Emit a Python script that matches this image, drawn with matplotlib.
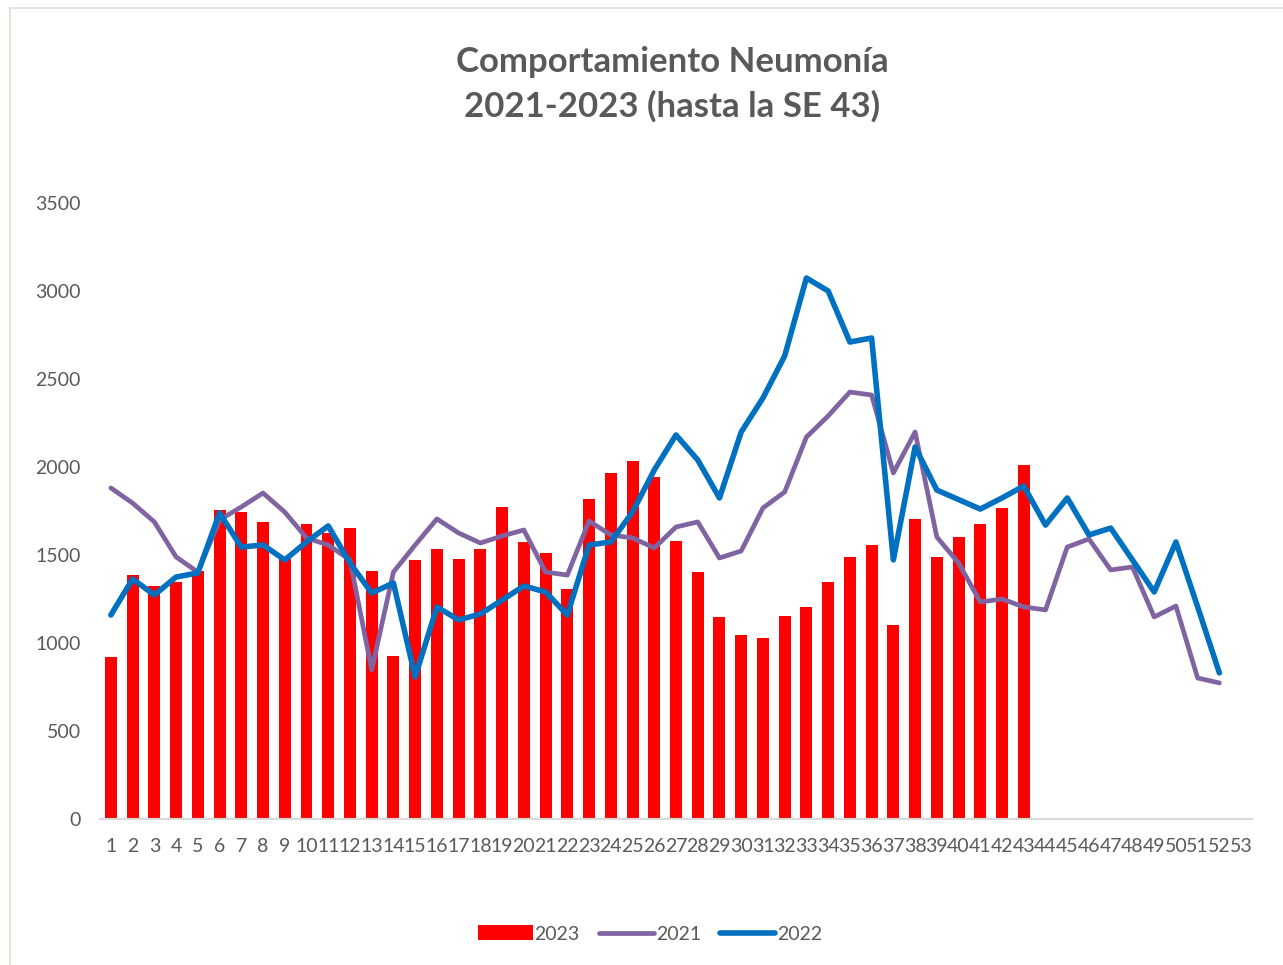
import matplotlib.pyplot as plt
from matplotlib.patches import Rectangle

# epidemiological weeks
weeks = list(range(1, 54))
weeks_2023 = list(range(1, 44))
weeks_lines = list(range(1, 53))

# 2023 cases (up to week 43)
cases_2023 = [920, 1386, 1324, 1347, 1409, 1756, 1744, 1688, 1480, 1676,
              1625, 1653, 1409, 926, 1472, 1534, 1477, 1534, 1773, 1574,
              1511, 1307, 1818, 1966, 2034, 1943, 1577, 1403, 1148, 1045,
              1028, 1153, 1205, 1347, 1489, 1557, 1102, 1705, 1489, 1602,
              1676, 1767, 2011]

# 2021 cases
cases_2021 = [1881, 1795, 1688, 1489, 1403, 1699, 1773, 1852, 1744, 1597,
              1557, 1472, 847, 1403, 1557, 1705, 1625, 1568, 1608, 1642,
              1403, 1386, 1693, 1614, 1597, 1540, 1659, 1688, 1483, 1523,
              1767, 1858, 2170, 2290, 2426, 2409, 1966, 2199, 1602, 1455,
              1233, 1250, 1205, 1188, 1545, 1591, 1415, 1432, 1148, 1210,
              801, 773]

# 2022 cases
cases_2022 = [1159, 1364, 1273, 1375, 1398, 1739, 1545, 1557, 1472, 1574,
              1665, 1455, 1284, 1341, 807, 1205, 1131, 1165, 1244, 1324,
              1290, 1159, 1557, 1574, 1744, 1983, 2182, 2040, 1824, 2199,
              2392, 2631, 3074, 3000, 2710, 2733, 1472, 2114, 1869, 1815,
              1761, 1824, 1892, 1670, 1824, 1614, 1653, 1472, 1290, 1574,
              1205, 830]

title = "Comportamiento Neumonía\n2021-2023 (hasta la SE 43)"
gray = "#595959"

plt.rcParams['font.family'] = ['Lato', 'DejaVu Sans']

fig = plt.figure(figsize=(12.83, 9.65), dpi=100)
# light chart frame
fig.patches.append(Rectangle((10 / 1283, -0.1), 1.2, 1.1 - 8 / 965,
                             transform=fig.transFigure, fill=False,
                             edgecolor="#e6e4da", linewidth=1.5))

ax = fig.add_axes([100 / 1283, 1 - 819 / 965, 1152 / 1283, 616 / 965])

bars = ax.bar(weeks_2023, cases_2023, width=0.55, color="#FF0000", label="2023", zorder=2)
l21, = ax.plot(weeks_lines, cases_2021, color="#8064A2", linewidth=3.4,
               solid_capstyle="round", solid_joinstyle="round", label="2021", zorder=3)
l22, = ax.plot(weeks_lines, cases_2022, color="#0070C0", linewidth=4.0,
               solid_capstyle="round", solid_joinstyle="round", label="2022", zorder=4)

ax.set_xlim(0.5, 53.5)
ax.set_ylim(0, 3500)
ax.set_yticks(range(0, 3501, 500))
ax.set_xticks(weeks)
ax.set_xticklabels([str(w) for w in weeks])
ax.tick_params(axis="both", length=0, colors=gray, labelsize=14)
ax.tick_params(axis="x", pad=14)
ax.tick_params(axis="y", pad=14)
for side in ["top", "right", "left"]:
    ax.spines[side].set_visible(False)
ax.spines["bottom"].set_color("#d9d9d9")
ax.spines["bottom"].set_linewidth(1.5)

fig.text(672 / 1283, 1 - 84 / 965, title, ha="center", va="center",
         fontsize=25, fontweight="bold", color=gray, linespacing=1.45)

ax.legend([bars, l21, l22], ["2023", "2021", "2022"], loc="center",
          bbox_to_anchor=(650 / 1283, 1 - 934 / 965),
          bbox_transform=fig.transFigure, ncol=3, frameon=False,
          fontsize=14, labelcolor=gray, handlelength=2.8, handleheight=0.8,
          handletextpad=0.1, columnspacing=1.0)

fig.savefig("out.png", dpi=100)
